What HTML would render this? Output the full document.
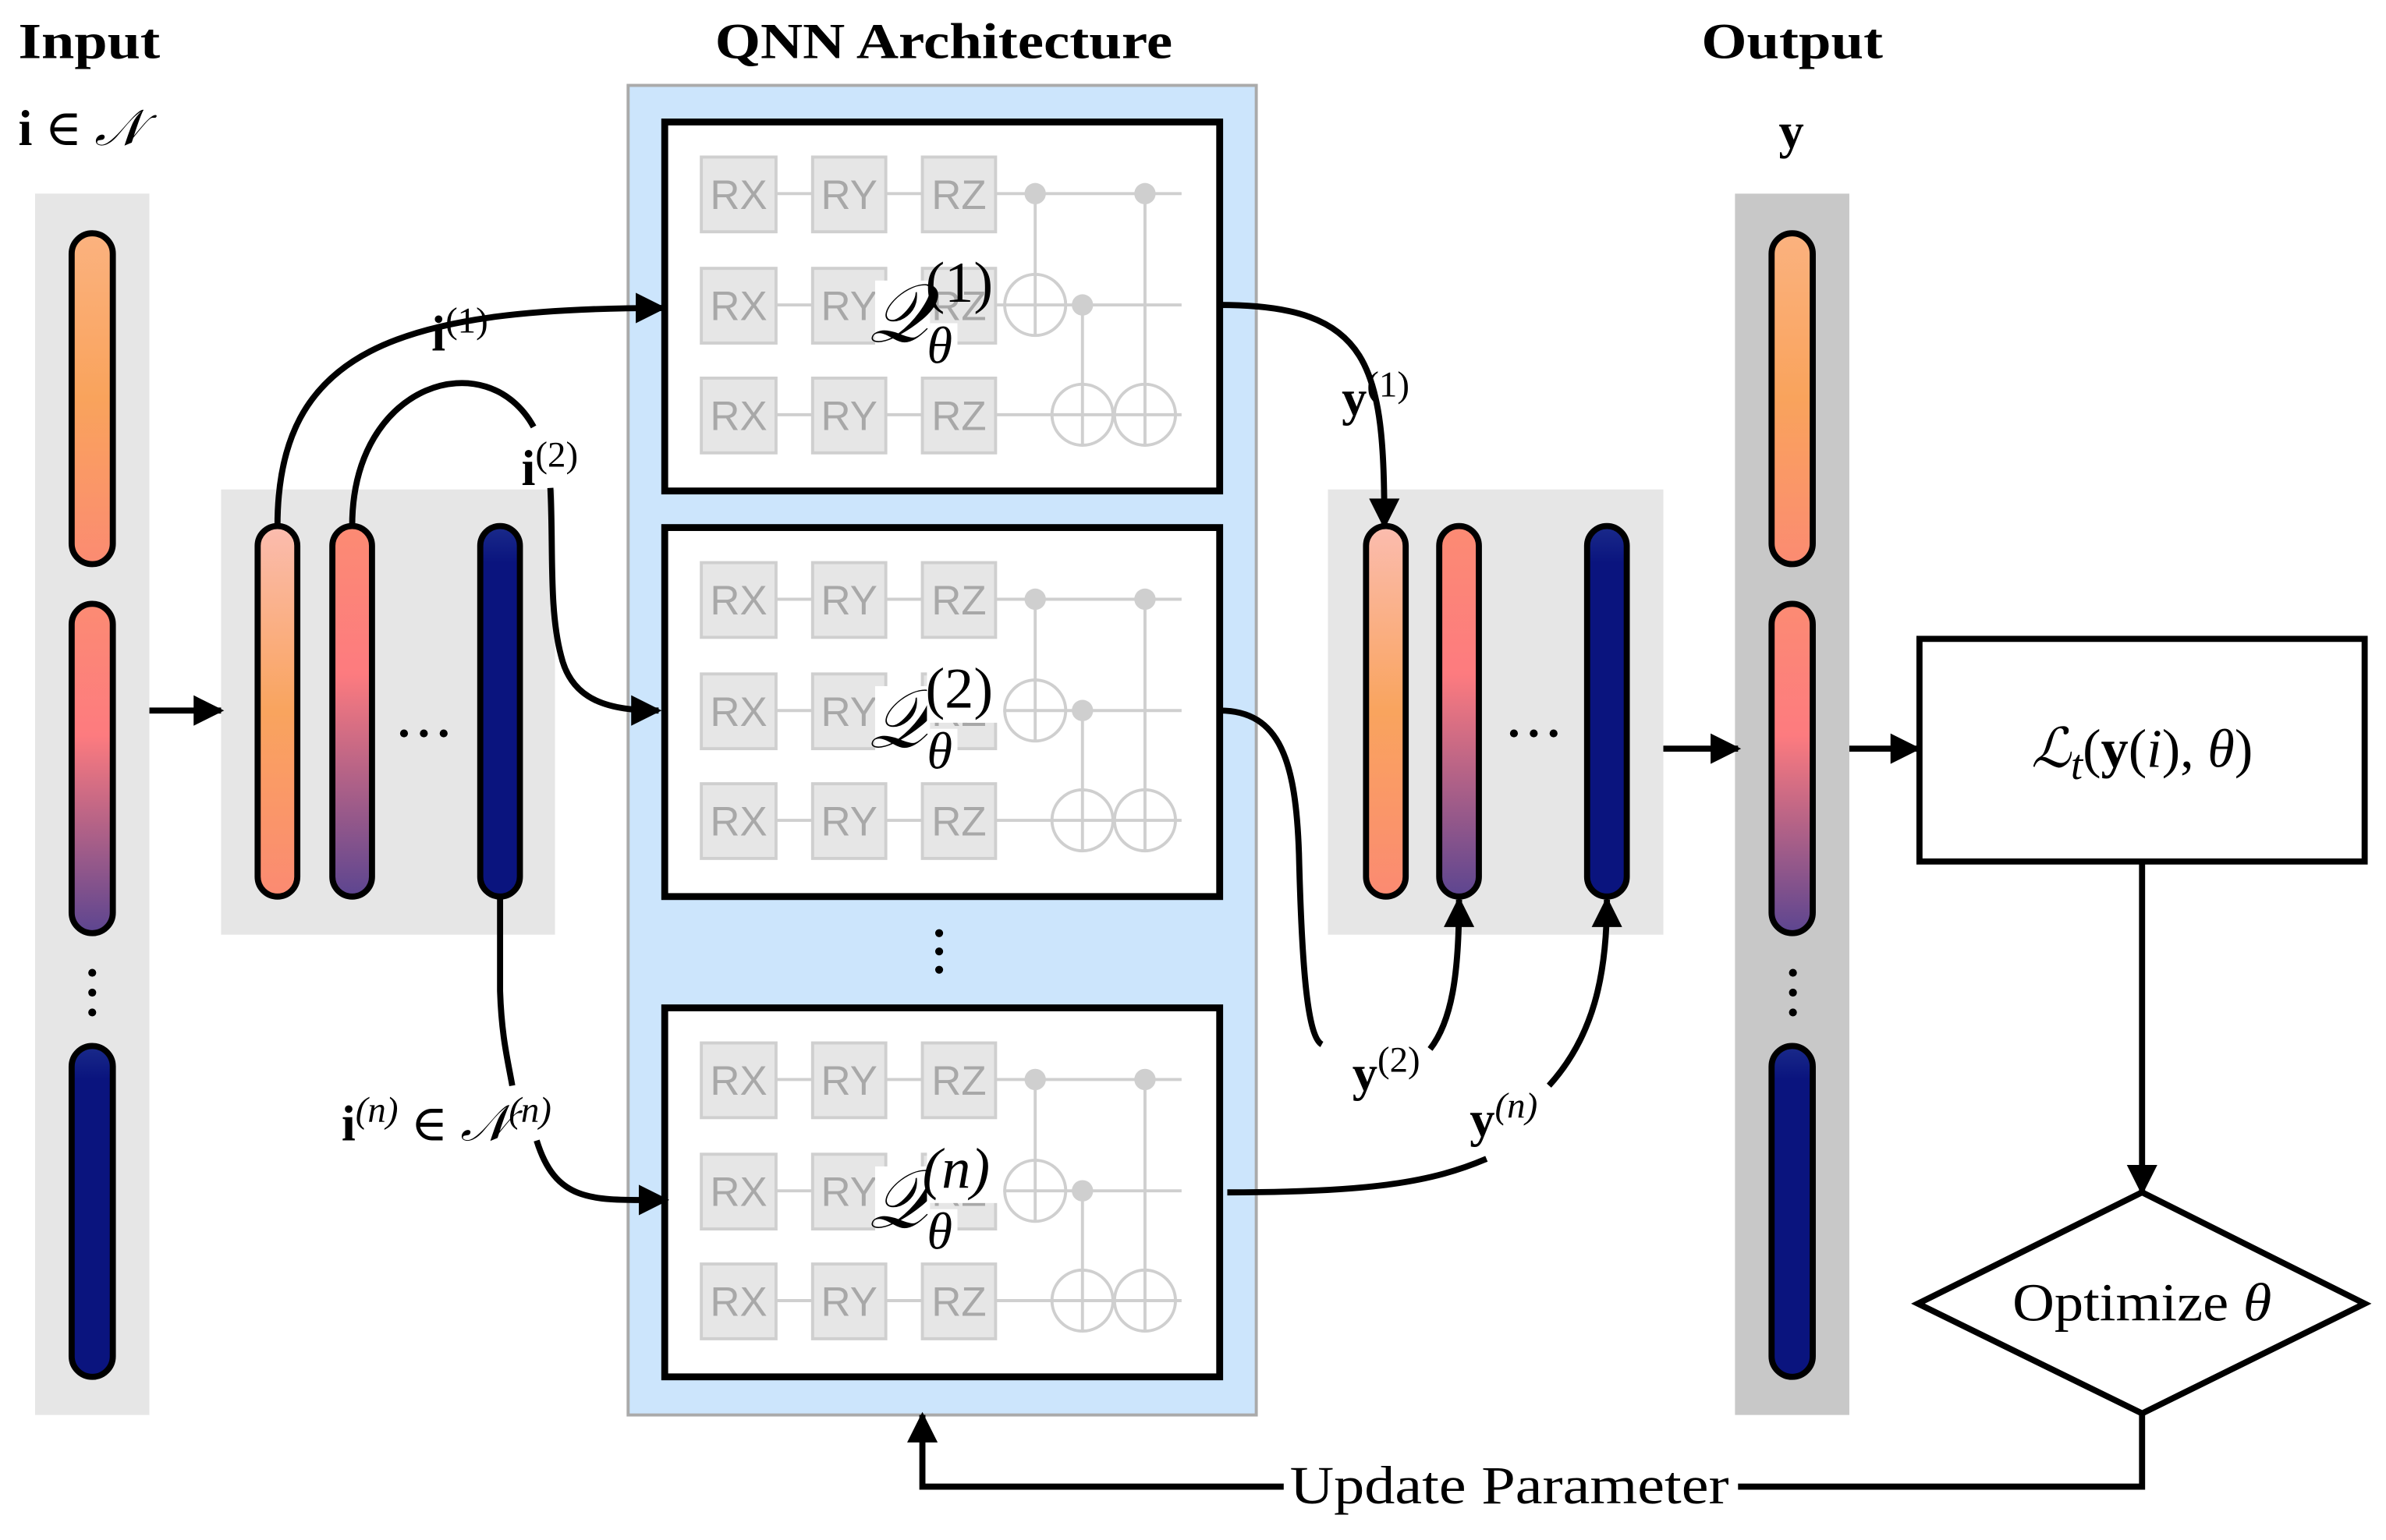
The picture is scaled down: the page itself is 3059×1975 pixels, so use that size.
<!DOCTYPE html>
<html><head><meta charset="utf-8"><style>
html,body{margin:0;padding:0;background:#fff;}
svg{display:block;}
text{font-family:"Liberation Serif","DejaVu Serif",serif;}
.g text{font-family:"Liberation Sans",sans-serif;font-size:27px;fill:#a8a8a8;text-anchor:middle;}
</style></head><body>
<svg width="3059" height="1975" viewBox="0 0 1565 1010" preserveAspectRatio="none" xmlns="http://www.w3.org/2000/svg">
<defs>
<linearGradient id="b1" x1="0" y1="0" x2="0" y2="1"><stop offset="0" stop-color="#fbb27f"/><stop offset="0.5" stop-color="#f9a35c"/><stop offset="1" stop-color="#fb8b72"/></linearGradient>
<linearGradient id="b2" x1="0" y1="0" x2="0" y2="1"><stop offset="0" stop-color="#fc8b73"/><stop offset="0.4" stop-color="#fd7b7f"/><stop offset="1" stop-color="#5c4590"/></linearGradient>
<linearGradient id="b0" x1="0" y1="0" x2="0" y2="1"><stop offset="0" stop-color="#fbbcaf"/><stop offset="0.5" stop-color="#f9a45e"/><stop offset="1" stop-color="#fb8a72"/></linearGradient>
<linearGradient id="b3" x1="0" y1="0" x2="0" y2="1"><stop offset="0" stop-color="#1a2a8a"/><stop offset="0.1" stop-color="#0a147e"/><stop offset="1" stop-color="#0a147e"/></linearGradient>
<marker id="ar" viewBox="0 0 10 10" refX="9" refY="5" markerWidth="22" markerHeight="20" markerUnits="userSpaceOnUse" orient="auto"><path d="M0,0L10,5L0,10z" fill="#000"/></marker>
</defs>

<!-- titles -->
<text x="12" y="38" font-size="33" font-weight="bold" textLength="93" lengthAdjust="spacingAndGlyphs">Input</text>
<text x="12" y="95" font-size="33" font-weight="bold">i <tspan font-weight="normal">∈ <tspan font-style="italic">𝒩</tspan></tspan></text>
<text x="469" y="38" font-size="33" font-weight="bold" textLength="300" lengthAdjust="spacingAndGlyphs">QNN Architecture</text>
<text x="1116" y="38" font-size="33" font-weight="bold" textLength="119" lengthAdjust="spacingAndGlyphs">Output</text>
<text x="1175" y="97" font-size="33" font-weight="bold" text-anchor="middle">y</text>

<!-- input column -->
<rect x="23" y="127" width="75" height="801" fill="#e6e6e6"/>
<rect x="47" y="153" width="27" height="217" rx="13.5" fill="url(#b1)" stroke="#000" stroke-width="4"/>
<rect x="47" y="396" width="27" height="216" rx="13.5" fill="url(#b2)" stroke="#000" stroke-width="4"/>
<rect x="47" y="686" width="27" height="217" rx="13.5" fill="url(#b3)" stroke="#000" stroke-width="4"/>
<circle cx="60.5" cy="638" r="2.6"/><circle cx="60.5" cy="651" r="2.6"/><circle cx="60.5" cy="664" r="2.6"/>

<!-- output column -->
<rect x="1138" y="127" width="75" height="801" fill="#c8c8c8"/>
<rect x="1162" y="153" width="27" height="217" rx="13.5" fill="url(#b1)" stroke="#000" stroke-width="4"/>
<rect x="1162" y="396" width="27" height="216" rx="13.5" fill="url(#b2)" stroke="#000" stroke-width="4"/>
<rect x="1162" y="686" width="27" height="217" rx="13.5" fill="url(#b3)" stroke="#000" stroke-width="4"/>
<circle cx="1176" cy="638" r="2.6"/><circle cx="1176" cy="651" r="2.6"/><circle cx="1176" cy="664" r="2.6"/>

<!-- middle gray boxes -->
<rect x="145" y="321" width="219" height="292" fill="#e6e6e6"/>
<rect x="169" y="345" width="26" height="243" rx="13" fill="url(#b0)" stroke="#000" stroke-width="4"/>
<rect x="218" y="345" width="26" height="243" rx="13" fill="url(#b2)" stroke="#000" stroke-width="4"/>
<rect x="315" y="345" width="26" height="243" rx="13" fill="url(#b3)" stroke="#000" stroke-width="4"/>
<circle cx="265" cy="481" r="2.6"/><circle cx="278" cy="481" r="2.6"/><circle cx="291" cy="481" r="2.6"/>

<rect x="871" y="321" width="220" height="292" fill="#e6e6e6"/>
<rect x="896" y="345" width="26" height="243" rx="13" fill="url(#b0)" stroke="#000" stroke-width="4"/>
<rect x="944" y="345" width="26" height="243" rx="13" fill="url(#b2)" stroke="#000" stroke-width="4"/>
<rect x="1041" y="345" width="26" height="243" rx="13" fill="url(#b3)" stroke="#000" stroke-width="4"/>
<circle cx="993" cy="481" r="2.6"/><circle cx="1006" cy="481" r="2.6"/><circle cx="1019" cy="481" r="2.6"/>

<!-- QNN box -->
<rect x="412" y="56" width="412" height="872" fill="#cce5fc" stroke="#aaaaaa" stroke-width="2"/>
<g id="c1">
<rect x="436" y="80" width="364" height="242" fill="#fff" stroke="#000" stroke-width="4.5"/>
<g stroke="#cfcfcf" stroke-width="2" fill="none">
<line x1="509" y1="127" x2="775" y2="127"/><line x1="509" y1="200" x2="775" y2="200"/><line x1="509" y1="272" x2="775" y2="272"/>
<line x1="679" y1="127" x2="679" y2="220"/><line x1="751" y1="127" x2="751" y2="292"/><line x1="710" y1="200" x2="710" y2="292"/>
<circle cx="679" cy="200" r="20"/><circle cx="710" cy="272" r="20"/><circle cx="751" cy="272" r="20"/>
</g>
<g fill="#cfcfcf"><circle cx="679" cy="127" r="7"/><circle cx="751" cy="127" r="7"/><circle cx="710" cy="200" r="7"/></g>
<g fill="#e6e6e6" stroke="#cfcfcf" stroke-width="2">
<rect x="460" y="103" width="49" height="49"/><rect x="533" y="103" width="48" height="49"/><rect x="605" y="103" width="48" height="49"/>
<rect x="460" y="176" width="49" height="49"/><rect x="533" y="176" width="48" height="49"/><rect x="605" y="176" width="48" height="49"/>
<rect x="460" y="248" width="49" height="49"/><rect x="533" y="248" width="48" height="49"/><rect x="605" y="248" width="48" height="49"/>
</g>
<g class="g"><text x="484.5" y="137">RX</text><text x="557" y="137">RY</text><text x="629" y="137">RZ</text>
<text x="484.5" y="210">RX</text><text x="557" y="210">RY</text><text x="629" y="210">RZ</text>
<text x="484.5" y="282">RX</text><text x="557" y="282">RY</text><text x="629" y="282">RZ</text></g>
<rect x="574" y="184" width="36" height="52" fill="#fff"/>
<rect x="610" y="212" width="18" height="28" fill="#fff"/>
<text x="570" y="224" font-size="54" font-style="italic">𝒬</text>
<text x="607" y="198" font-size="38">(1)</text>
<text x="608" y="238" font-size="34" font-style="italic">θ</text>
</g>
<use href="#c1" transform="translate(0,266)"/>
<use href="#c1" transform="translate(0,581)"/>
<rect x="608" y="437" width="50" height="37" fill="#fff"/>
<text x="607" y="464" font-size="38">(2)</text>
<rect x="608" y="752" width="50" height="37" fill="#fff"/>
<text x="605" y="779" font-size="38" font-style="italic">(n)</text>
<circle cx="616" cy="612" r="2.6"/><circle cx="616" cy="624" r="2.6"/><circle cx="616" cy="636" r="2.6"/>

<!-- connectors -->
<g fill="none" stroke="#000" stroke-width="4">
<line x1="98" y1="466" x2="145" y2="466" marker-end="url(#ar)"/>
<path d="M182,345 C182,230 260,202 435,202" marker-end="url(#ar)"/>
<path d="M231,345 C231,250 320,225 350,280" />
<path d="M361,320 C363,360 360,400 368,430 C375,460 400,466 432,466" marker-end="url(#ar)"/>
<path d="M328,588 L328,650 C329,680 333,695 336,712" />
<path d="M352,748 C365,790 390,787 437,787" marker-end="url(#ar)"/>
<path d="M800,200 C900,200 908,240 908,345" marker-end="url(#ar)"/>
<path d="M800,466 C840,466 850,500 852,560 C854,640 858,680 867,685" />
<path d="M938,688 C952,670 957,640 957,590" marker-end="url(#ar)"/>
<path d="M805,782 C900,782 940,775 975,760" />
<path d="M1016,712 C1045,680 1054,640 1054,590" marker-end="url(#ar)"/>
<line x1="1091" y1="491" x2="1140" y2="491" marker-end="url(#ar)"/>
<line x1="1213" y1="491" x2="1258" y2="491" marker-end="url(#ar)"/>
<line x1="1405" y1="565" x2="1405" y2="782" marker-end="url(#ar)"/>
<path d="M1405,927 L1405,975 L1140,975"/>
<path d="M842,975 L605,975 L605,928" marker-end="url(#ar)"/>
</g>
<text x="283" y="230" font-size="33" font-weight="bold">i<tspan font-size="24" font-weight="normal" dy="-12">(1)</tspan></text>
<text x="342" y="318" font-size="33" font-weight="bold">i<tspan font-size="24" font-weight="normal" dy="-12">(2)</tspan></text>
<text x="224" y="748" font-size="33" font-weight="bold">i<tspan font-size="24" font-weight="normal" font-style="italic" dy="-12">(n)</tspan><tspan font-weight="normal" dy="12"> ∈ </tspan><tspan font-weight="normal" font-style="italic">𝒩</tspan><tspan font-size="24" font-weight="normal" font-style="italic" dy="-12">(n)</tspan></text>
<text x="880" y="272" font-size="33" font-weight="bold">y<tspan font-size="24" font-weight="normal" dy="-12">(1)</tspan></text>
<text x="887" y="715" font-size="33" font-weight="bold">y<tspan font-size="24" font-weight="normal" dy="-12">(2)</tspan></text>
<text x="964" y="745" font-size="33" font-weight="bold">y<tspan font-size="24" font-weight="normal" font-style="italic" dy="-12">(n)</tspan></text>

<!-- loss box -->
<rect x="1259" y="419" width="292" height="146" fill="#fff" stroke="#000" stroke-width="4"/>
<text x="1405" y="503" font-size="36" text-anchor="middle"><tspan font-style="italic">ℒ</tspan><tspan font-style="italic" font-size="28" dy="8">t</tspan><tspan dy="-8">(</tspan><tspan font-weight="bold">y</tspan>(<tspan font-style="italic">i</tspan>), <tspan font-style="italic">θ</tspan>)</text>
<polygon points="1405,782 1551,855 1405,927 1258,855" fill="#fff" stroke="#000" stroke-width="4"/>
<text x="1320" y="866" font-size="35" textLength="170" lengthAdjust="spacingAndGlyphs">Optimize <tspan font-style="italic">θ</tspan></text>
<text x="846" y="986" font-size="35" textLength="288" lengthAdjust="spacingAndGlyphs">Update Parameter</text>
</svg>
</body></html>
